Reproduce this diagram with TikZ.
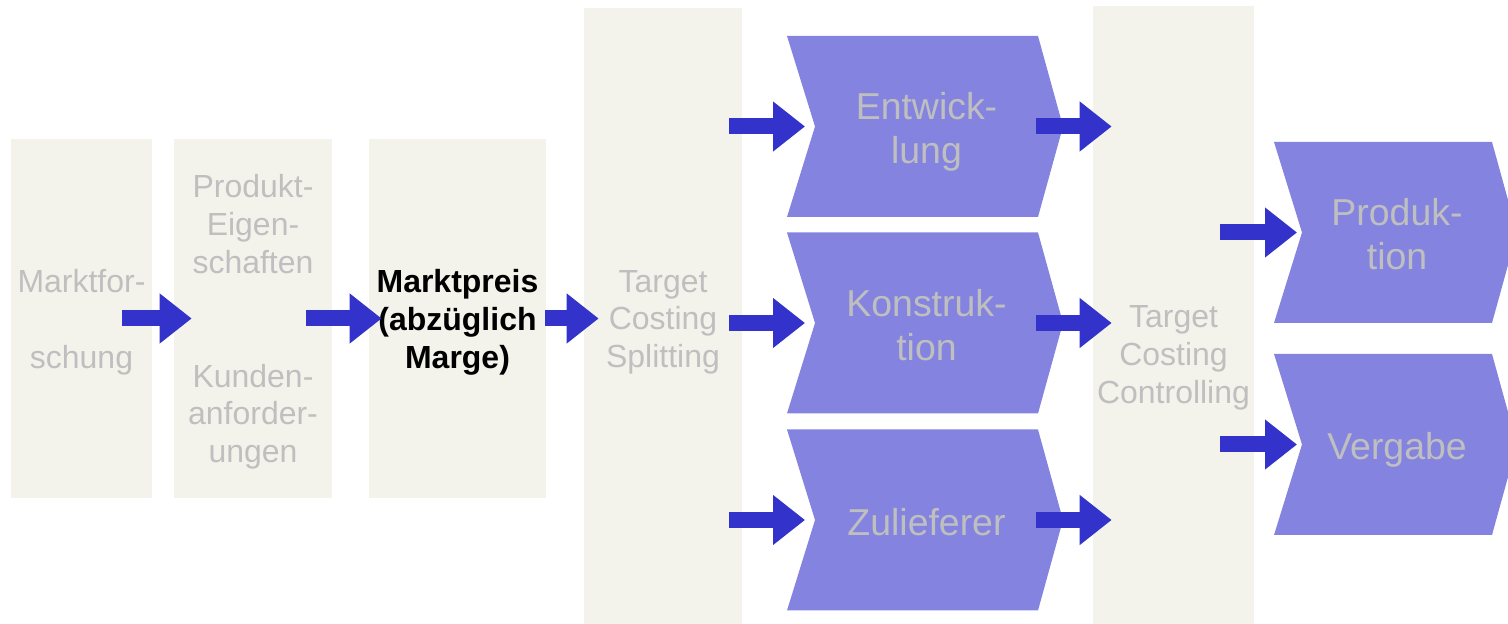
\documentclass[tikz,border=0pt]{standalone}
\usepackage{fontspec}
\setmainfont{Liberation Sans}
\usetikzlibrary{calc,arrows.meta}

\definecolor{boxbeige}{HTML}{F3F3EC}
\definecolor{chevblue}{HTML}{8484E0}
\definecolor{arrowblue}{HTML}{3333CC}
\definecolor{textgray}{HTML}{BFBFBF}

\tikzset{
  stage/.style={fill=boxbeige, inner sep=0pt},
  stagetext/.style={text=textgray, align=center, text depth=0pt, font=\fontsize{18.2}{21.6}\selectfont},
  chevtext/.style={text=textgray, align=center, text depth=0pt, font=\fontsize{21.3}{25}\selectfont},
  flow/.style={arrowblue, line width=0.32cm, -{Triangle[length=0.64cm,width=0.96cm]}},
}

% chevron: name, left x, top y, body width, text
\newcommand{\chev}[5]{%
  \fill[chevblue] (#2,#3) -- ++(#4,0) -- ++(25,90.5) -- ++(-25,90.5) -- ++(-#4,0) -- ++(28,-90.5) -- cycle;
  \coordinate (#1-w) at (#2,#3+90.5);
  \coordinate (#1-e) at (#2+#4,#3+90.5);
  \node[chevtext] (#1) at ($(#1-w)!0.5!(#1-e)+(14,1.5)$) {#5};
}

\begin{document}
\begin{tikzpicture}[x=0.02cm, y=-0.02cm]
\useasboundingbox (0,0) rectangle (1508,624);
\clip (0,0) rectangle (1508,624);

% stages
\node[stage, stagetext, minimum width=2.82cm, minimum height=7.18cm] (mf) at (81.5,318.5) {Marktfor-\\~\\schung};
\node[stage, stagetext, minimum width=3.16cm, minimum height=7.18cm] (eig) at (253,318.5) {Produkt-\\Eigen-\\schaften\\~\\~\\Kunden-\\anforder-\\ungen};
\node[stage, stagetext, text=black, font=\fontsize{18.2}{21.6}\selectfont\bfseries, minimum width=3.54cm, minimum height=7.18cm] (mp) at (457.5,318.5) {Marktpreis\\(abzüglich\\Marge)};
\node[stage, stagetext, minimum width=3.16cm, minimum height=12.44cm] (tcs) at (663,319) {Target\\Costing\\Splitting};
\node[stage, minimum width=3.22cm, minimum height=12.48cm] (ctrl) at (1173.5,318) {};
\node[stagetext] (ctrltext) at (1173.5,354.5) {Target\\Costing\\Controlling};

\draw[flow] ($(mf.east)+(-30,0)$) -- ($(eig.west)+(18,0)$);
\draw[flow] ($(eig.east)+(-26,0)$) -- ($(mp.west)+(13,0)$);
\draw[flow] ($(mp.east)+(-1,0)$) -- ($(tcs.west |- mp.east)+(15,0)$);

% chevrons
\chev{entw}{787}{36}{251}{Entwick-\\lung}
\chev{kons}{787}{232.5}{251}{Konstruk-\\tion}
\chev{zul}{787}{429.5}{251}{Zulieferer}
\chev{prod}{1274}{142}{218}{Produk-\\tion}
\chev{verg}{1274}{354}{218}{Vergabe}

\foreach \s in {entw,kons,zul}{
  \draw[flow] ($(tcs.east |- \s-w)+(-13,0)$) -- ($(\s-w)+(18,0)$);
  \draw[flow] ($(\s-e)+(-2,0)$) -- ($(ctrl.west |- \s-e)+(19,0)$);
}
\foreach \s in {prod,verg}
  \draw[flow] ($(ctrl.east |- \s-w)+(-34,0)$) -- ($(\s-w)+(23,0)$);
\end{tikzpicture}
\end{document}
